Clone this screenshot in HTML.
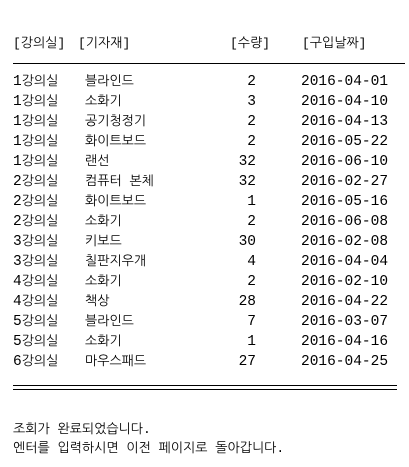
<!DOCTYPE html>
<html><head><meta charset="utf-8"><style>
body{margin:0;width:409px;height:467px;background:#fff;position:relative;overflow:hidden;font-family:"Liberation Mono","NanumGothic","Noto Sans CJK KR",monospace;color:#000}
.t{position:absolute;white-space:nowrap;line-height:16px;font-size:14.5px}
.k{font-family:"Liberation Mono","NanumGothic","Noto Sans CJK KR",monospace;font-size:13px}
.h{font-size:13px}
.line{position:absolute;background:#000;height:1px}
.q{text-align:right;width:40px}
.d{font-size:14.5px}
</style></head><body>
<div class="t h" style="left:13px;top:36px">[강의실]</div>
<div class="t h" style="left:78px;top:36px">[기자재]</div>
<div class="t h" style="left:230px;top:36px">[수량]</div>
<div class="t h" style="left:302px;top:36px">[구입날짜]</div>
<div class="line" style="left:13px;top:63px;width:392px"></div>
<div id="rows"></div>
<div class="line" style="left:13px;top:385px;width:384px"></div>
<div class="line" style="left:13px;top:389px;width:384px"></div>
<div class="t k" style="left:13px;top:422px">조회가 완료되었습니다.</div>
<div class="t k" style="left:13px;top:441px">엔터를 입력하시면 이전 페이지로 돌아갑니다.</div>
<script>
const rooms=["1강의실","1강의실","1강의실","1강의실","1강의실","2강의실","2강의실","2강의실","3강의실","3강의실","4강의실","4강의실","5강의실","5강의실","6강의실"];
const items=["블라인드","소화기","공기청정기","화이트보드","랜선","컴퓨터 본체","화이트보드","소화기","키보드","칠판지우개","소화기","책상","블라인드","소화기","마우스패드"];
const qtys=["2","3","2","2","32","32","1","2","30","4","2","28","7","1","27"];
const dates=["2016-04-01","2016-04-10","2016-04-13","2016-05-22","2016-06-10","2016-02-27","2016-05-16","2016-06-08","2016-02-08","2016-04-04","2016-02-10","2016-04-22","2016-03-07","2016-04-16","2016-04-25"];
const c=document.getElementById('rows');
for(let i=0;i<rooms.length;i++){
 const top=74+i*20;
 const mk=(txt,left,cls,nm)=>{const d=document.createElement('div');d.className='t '+cls;d.style.left=left+'px';d.style.top=top+'px';
 if(nm==='row-class'){const s=document.createElement('span');s.className='d';s.textContent=txt.charAt(0);d.appendChild(s);d.appendChild(document.createTextNode(txt.slice(1)));}
 else d.textContent=txt;
 
 
 c.appendChild(d);};
 mk(rooms[i],13,'k','row-class');
 mk(items[i],85,'k','row-item');
 mk(qtys[i],216,'q','row-qty');
 mk(dates[i],301,'','row-date');
}
</script>
</body></html>
